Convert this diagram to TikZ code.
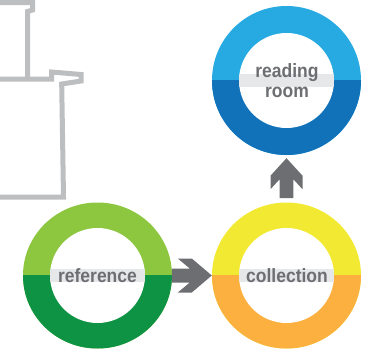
\documentclass[tikz,border=0pt]{standalone}
\usepackage{fontspec}
\usepackage{graphicx}
\setmainfont{Liberation Sans}
\usetikzlibrary{calc}
\definecolor{lgreen}{HTML}{8DC63F}
\definecolor{dgreen}{HTML}{0E9244}
\definecolor{lyellow}{HTML}{F2EA32}
\definecolor{orangeb}{HTML}{FBB03F}
\definecolor{lblue}{HTML}{27AAE1}
\definecolor{dblue}{HTML}{1172BA}
\definecolor{arrowgray}{HTML}{6D6E71}
\definecolor{textgray}{HTML}{6D6E71}
\definecolor{bandgray}{HTML}{E6E7E8}
\definecolor{outlinegray}{HTML}{BCBEC0}
\newcommand\talltext[1]{\scalebox{1}[1.1]{#1}}
\newcommand\myring[6]{% name, x, y, top colour, bottom colour, yradius
  \node[ringspot] (#1) at (#2,#3) {};
  \fill[#4] (#1.center) ellipse[x radius=74.5pt, y radius=#6pt];
  \begin{scope}
    \clip (#2-80,#3) rectangle (#2+80,#3+80);
    \fill[#5] (#1.center) ellipse[x radius=74.5pt, y radius=#6pt];
  \end{scope}
  \fill[white] (#1.center) circle[radius=47.5pt];
  \begin{scope}
    \clip (#1.center) circle[radius=47.5pt];
    \fill[bandgray] (#2-50,#3-6.5) rectangle (#2+50,#3+6.5);
  \end{scope}
}
\tikzset{
  ringspot/.style={circle, minimum size=149pt, inner sep=0pt, draw=none},
  lbl/.style={font=\bfseries\fontsize{17.5}{20.5}\selectfont, text=textgray, inner sep=0pt, align=center},
  border/.style={draw=outlinegray, line width=5pt, line join=miter},
  blockarrow/.style={fill=arrowgray}
}
\begin{document}
\begin{tikzpicture}[x=1pt,y=-1pt]
\useasboundingbox (0,0) rectangle (373,354);
\clip (0,0) rectangle (373,354);
% map outline
\draw[border] (-5,79) -- (51.5,79) -- (51.5,72) -- (81,74.5) -- (81,81) -- (61.7,84) -- (63.5,197) -- (-5,197);
\draw[border] (-5,2.5) -- (32.5,2.5) -- (32.5,10) -- (27.5,11.5) -- (27.5,79);
% rings
\myring{ref}{97.5}{275.5}{lgreen}{dgreen}{73}
\myring{col}{286.5}{275.5}{lyellow}{orangeb}{73}
\myring{read}{286.5}{80.5}{lblue}{dblue}{74.5}
% labels
\node[lbl, anchor=base] (reftext) at (97.5,282) {\talltext{reference}};
\node[lbl, anchor=base] (coltext) at (287,282) {\talltext{collection}};
\node[lbl, anchor=center] (readtext) at (287,80.5) {\talltext{reading}\\\talltext{room}};
% arrows
\begin{scope}[shift={(col.west)}]
\fill[blockarrow] (0,0) -- (-20,-17) -- (-34,-17) -- (-22,-7) -- (-40,-7) -- (-40,7) -- (-22,7) -- (-34,17) -- (-20,17) -- cycle;
\end{scope}
\begin{scope}[shift={($(read.south)+(0,3)$)}]
\fill[blockarrow] (0,0) -- (16,17.5) -- (16,31) -- (6.8,21) -- (6.8,40) -- (-6.8,40) -- (-6.8,21) -- (-16,31) -- (-16,17.5) -- cycle;
\end{scope}
\end{tikzpicture}
\end{document}
